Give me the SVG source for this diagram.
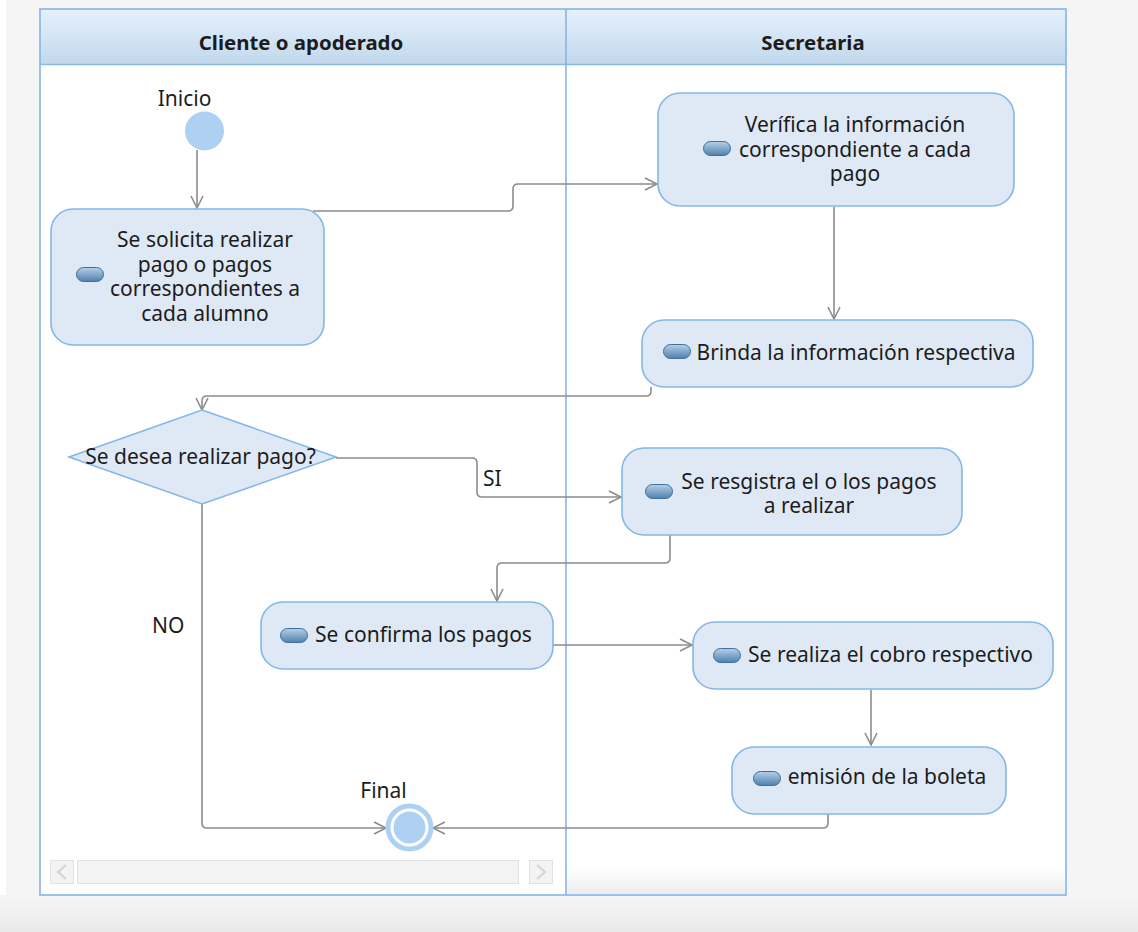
<svg xmlns="http://www.w3.org/2000/svg" width="1138" height="932" viewBox="0 0 1138 932">
<defs>
<linearGradient id="hdr" x1="0" y1="0" x2="0" y2="1"><stop offset="0" stop-color="#e4f1fc"/><stop offset="1" stop-color="#c3d8ed"/></linearGradient>
<linearGradient id="ico" x1="0" y1="0" x2="0" y2="1"><stop offset="0" stop-color="#b5d0e8"/><stop offset="1" stop-color="#4f80ad"/></linearGradient>
<linearGradient id="foot" x1="0" y1="0" x2="0" y2="1"><stop offset="0" stop-color="#f6f6f6"/><stop offset="1" stop-color="#e9e9e9"/></linearGradient>
<linearGradient id="laneb" x1="0" y1="0" x2="0" y2="1"><stop offset="0" stop-color="#ffffff"/><stop offset="1" stop-color="#ececec"/></linearGradient>
<marker id="arr" markerUnits="userSpaceOnUse" markerWidth="16" markerHeight="16" refX="13" refY="7" orient="auto" viewBox="0 0 16 14">
<path d="M1,1 L13,7 L1,13" fill="none" stroke="#8c8c8c" stroke-width="1.6"/>
</marker>
</defs>
<style>
.t{font-family:"Noto Sans","Open Sans","DejaVu Sans",sans-serif;font-size:21px;fill:#1c1c1c}
.m{text-anchor:middle}
.h{font-family:"Noto Sans","Open Sans","DejaVu Sans",sans-serif;font-size:20.4px;font-weight:bold;fill:#1c1c1c;text-anchor:middle}
.box{fill:#dfe9f5;stroke:#84b6e8;stroke-width:1.6}
.icon{fill:url(#ico);stroke:#3f6f9c;stroke-width:1}
.c{fill:none;stroke:#8c8c8c;stroke-width:1.6}
</style>
<rect x="0" y="0" width="1138" height="932" fill="#f5f5f5"/>
<rect x="0" y="0" width="6" height="932" fill="#ffffff"/>
<rect x="0" y="895" width="1138" height="37" fill="url(#foot)"/>
<g id="lanes">
<rect x="40" y="9" width="1026" height="886" fill="#ffffff"/>
<rect x="567" y="868" width="498" height="26" fill="url(#laneb)"/>
<rect x="40" y="9" width="1026" height="55" fill="url(#hdr)"/>
<line x1="40" y1="64.5" x2="1066" y2="64.5" stroke="#8ab8e6" stroke-width="1.5"/>
<rect x="40" y="9" width="1026" height="886" fill="none" stroke="#86b5e5" stroke-width="1.6"/>
<line x1="566" y1="9" x2="566" y2="895" stroke="#86b5e5" stroke-width="1.6"/>
<text class="h" x="301" y="50">Cliente o apoderado</text>
<text class="h" x="813" y="50">Secretaria</text>
</g>
<g id="scrollbar">
<rect x="50.5" y="860.5" width="23" height="23" fill="#f3f3f3" stroke="#e2e2e2"/>
<path d="M66,865 L58,872 L66,879" fill="none" stroke="#d4d4d4" stroke-width="2"/>
<rect x="77.5" y="860.5" width="441" height="23" fill="#f3f3f3" stroke="#e2e2e2"/>
<rect x="529.5" y="860.5" width="23" height="23" fill="#f3f3f3" stroke="#e2e2e2"/>
<path d="M537,865 L545,872 L537,879" fill="none" stroke="#d4d4d4" stroke-width="2"/>
</g>
<g id="connectors">
<path class="c" d="M197,150 V208" marker-end="url(#arr)"/>
<path class="c" d="M313,211 H508 Q513,211 513,206 V189 Q513,184 518,184 H657" marker-end="url(#arr)"/>
<path class="c" d="M834,207 V319" marker-end="url(#arr)"/>
<path class="c" d="M651,387 V391 Q651,396 646,396 H207 Q202,396 202,401 V410" marker-end="url(#arr)"/>
<path class="c" d="M336,458 H472 Q477,458 477,463 V492 Q477,497 482,497 H621" marker-end="url(#arr)"/>
<path class="c" d="M670,535 V558 Q670,563 665,563 H502 Q497,563 497,568 V601" marker-end="url(#arr)"/>
<path class="c" d="M553,645 H692" marker-end="url(#arr)"/>
<path class="c" d="M871,690 V745" marker-end="url(#arr)"/>
<path class="c" d="M828,814 V823 Q828,828 823,828 H433" marker-end="url(#arr)"/>
<path class="c" d="M202,504 V823 Q202,828 207,828 H386" marker-end="url(#arr)"/>
<text class="t" x="483" y="486">SI</text>
<text class="t" x="152" y="633">NO</text>
</g>
<g id="inicio">
<circle cx="204.5" cy="131" r="19.5" fill="#aed0f2"/>
<text class="t m" x="184.5" y="106">Inicio</text>
</g>
<g id="solicita">
<rect class="box" x="51" y="209" width="273" height="136" rx="22"/>
<rect class="icon" x="76.5" y="267.5" width="27" height="14" rx="7"/>
<text class="t m" x="205" y="247">Se solicita realizar<tspan x="205" y="272">pago o pagos</tspan><tspan x="205" y="296">correspondientes a</tspan><tspan x="205" y="321">cada alumno</tspan></text>
</g>
<g id="verifica">
<rect class="box" x="658" y="93" width="356" height="113" rx="22"/>
<rect class="icon" x="703.5" y="141.5" width="27" height="14" rx="7"/>
<text class="t m" x="855" y="132">Verífica la información<tspan x="855" y="157">correspondiente a cada</tspan><tspan x="855" y="181">pago</tspan></text>
</g>
<g id="brinda">
<rect class="box" x="642" y="320" width="391" height="67" rx="22"/>
<rect class="icon" x="663.5" y="344.5" width="27" height="14" rx="7"/>
<text class="t m" x="856" y="360">Brinda la información respectiva</text>
</g>
<g id="decision">
<polygon points="202,410 336,457 202,504 69,457" fill="#dfe9f5" stroke="#84b6e8" stroke-width="1.6"/>
<text class="t m" x="200.5" y="464">Se desea realizar pago?</text>
</g>
<g id="registra">
<rect class="box" x="622" y="448" width="340" height="87" rx="22"/>
<rect class="icon" x="645.5" y="484.5" width="27" height="14" rx="7"/>
<text class="t m" x="809" y="489">Se resgistra el o los pagos<tspan x="809" y="513">a realizar</tspan></text>
</g>
<g id="confirma">
<rect class="box" x="261" y="602" width="292" height="67" rx="22"/>
<rect class="icon" x="280.5" y="628.5" width="27" height="14" rx="7"/>
<text class="t m" x="423.5" y="642">Se confirma los pagos</text>
</g>
<g id="cobro">
<rect class="box" x="693" y="622" width="360" height="67" rx="22"/>
<rect class="icon" x="713.5" y="648.5" width="27" height="14" rx="7"/>
<text class="t m" x="890.5" y="662">Se realiza el cobro respectivo</text>
</g>
<g id="boleta">
<rect class="box" x="732" y="747" width="274" height="67" rx="22"/>
<rect class="icon" x="753.5" y="771.5" width="27" height="14" rx="7"/>
<text class="t m" x="887" y="784">emisión de la boleta</text>
</g>
<g id="final">
<circle cx="409.5" cy="827.5" r="21.5" fill="#ffffff" stroke="#aed0f2" stroke-width="5"/>
<circle cx="409.5" cy="827.5" r="16" fill="#aed0f2"/>
<text class="t m" x="383.5" y="798">Final</text>
</g>
</svg>
